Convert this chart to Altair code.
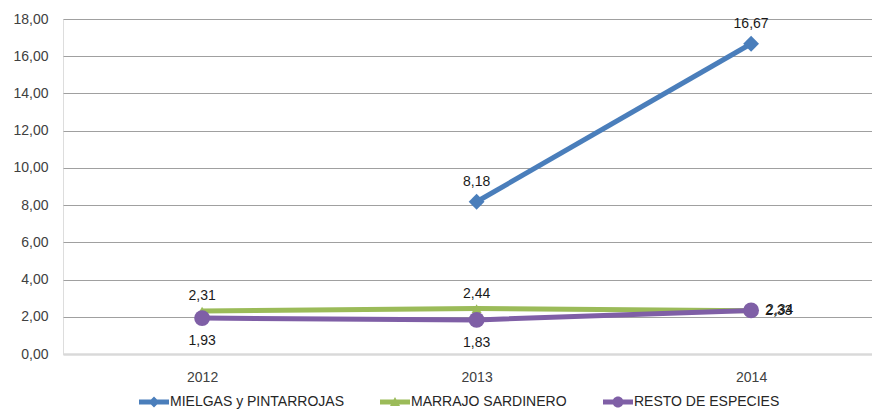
import altair as alt
import pandas as pd

years = ["2012", "2013", "2014"]
series_names = ["MIELGAS y PINTARROJAS", "MARRAJO SARDINERO", "RESTO DE ESPECIES"]
mielgas = [None, 8.18, 16.67]
marrajo = [2.31, 2.44, 2.33]
resto = [1.93, 1.83, 2.34]
colors = ["#4A7EBB", "#9BBB59", "#7F5FA6"]
marker_shapes = ["diamond", "triangle-up", "circle"]
marker_sizes = [250, 100, 250]
y_ticks = [0, 2, 4, 6, 8, 10, 12, 14, 16, 18]

rows = []
for name, vals in zip(series_names, [mielgas, marrajo, resto]):
    for yr, v in zip(years, vals):
        if v is not None:
            rows.append({"year": yr, "series": name, "value": v})
df = pd.DataFrame(rows)

FONT = "Liberation Sans"

x = alt.X("year:O", title=None,
          scale=alt.Scale(type="point", padding=0.4736, align=0.535),
          axis=alt.Axis(labelAngle=0, ticks=False, grid=False, domain=True,
                        domainColor="#d9d9d9", domainWidth=2,
                        labelPadding=16, labelFontSize=14, labelColor="#404040",
                        labelFont=FONT))
y = alt.Y("value:Q", title=None,
          scale=alt.Scale(domain=[0, 18], nice=False, zero=True),
          axis=alt.Axis(values=y_ticks, ticks=False, domain=False,
                        gridColor={"condition": {"test": "datum.value === 0", "value": "#d9d9d9"}, "value": "#a0a0a0"},
                        gridWidth={"condition": {"test": "datum.value === 0", "value": 2}, "value": 1},
                        labelPadding=15, labelFontSize=14, labelColor="#404040",
                        labelFont=FONT,
                        labelExpr="replace(format(datum.value, '.2f'), '.', ',')"))

color_scale = alt.Scale(domain=series_names, range=colors)

# legend glyphs: line segment + marker
p_line = "M-3,-0.5 L3,-0.5 L3,0.5 L-3,0.5 Z"
p_diamond = p_line + " M0,-1.1 L1.1,0 L0,1.1 L-1.1,0 Z"
p_tri = p_line + " M0,-1.0 L1.0,0.8 L-1.0,0.8 Z"
p_circle = p_line + " M-1.1,0 A1.1,1.1 0 1,1 1.1,0 A1.1,1.1 0 1,1 -1.1,0 Z"
legend_expr = ("(datum.value === '" + series_names[0] + "' ? '" + p_diamond + "' : "
               "(datum.value === '" + series_names[1] + "' ? '" + p_tri + "' : '" + p_circle + "'))")
mark_shape_expr = ("datum.series ? (datum.series === '" + series_names[0] + "' ? '" + marker_shapes[0] + "' : "
                   "(datum.series === '" + series_names[1] + "' ? '" + marker_shapes[1] + "' : '" + marker_shapes[2] + "')) : "
                   + legend_expr)
mark_size_expr = ("datum.series ? (datum.series === '" + series_names[0] + "' ? " + str(marker_sizes[0]) + " : "
                  "(datum.series === '" + series_names[1] + "' ? " + str(marker_sizes[1]) + " : " + str(marker_sizes[2]) + ")) : 100")

legend = alt.Legend(title=None, orient="none", direction="horizontal",
                    legendX=84, legendY=376,
                    symbolType=alt.ExprRef(expr=legend_expr),
                    symbolSize=100, symbolOpacity=1,
                    symbolStrokeWidth=0,
                    labelOffset=9, columnPadding=36,
                    labelFont=FONT, labelFontSize=14,
                    labelColor="#262626", labelLimit=400)

base = alt.Chart(df)

lines = base.mark_line(strokeWidth=5).encode(
    x=x, y=y,
    color=alt.Color("series:N", scale=color_scale, sort=series_names, legend=legend),
)

points = base.mark_point(filled=True, opacity=1,
                         shape=alt.ExprRef(expr=mark_shape_expr),
                         size=alt.ExprRef(expr=mark_size_expr)).encode(
    x=x, y=y,
    color=alt.Color("series:N", scale=color_scale, sort=series_names, legend=legend),
)

txt = dict(fontSize=14, font=FONT, color="#1a1a1a")
label_calc = "replace(format(datum.value, '.2f'), '.', ',')"

lab_blue = base.transform_filter(alt.datum.series == series_names[0]).transform_calculate(
    lab=label_calc).mark_text(dy=-20, **txt).encode(x=x, y=y, text="lab:N")
lab_green = base.transform_filter(
    (alt.datum.series == series_names[1]) & (alt.datum.year != "2014")).transform_calculate(
    lab=label_calc).mark_text(dy=-15, **txt).encode(x=x, y=y, text="lab:N")
lab_purple = base.transform_filter(
    (alt.datum.series == series_names[2]) & (alt.datum.year != "2014")).transform_calculate(
    lab=label_calc).mark_text(dy=23, **txt).encode(x=x, y=y, text="lab:N")
lab_right_g = base.transform_filter(
    (alt.datum.series == series_names[1]) & (alt.datum.year == "2014")).transform_calculate(
    lab=label_calc).mark_text(dx=14, align="left", **txt).encode(x=x, y=y, text="lab:N")
lab_right_p = base.transform_filter(
    (alt.datum.series == series_names[2]) & (alt.datum.year == "2014")).transform_calculate(
    lab=label_calc).mark_text(dx=15, align="left", **txt).encode(x=x, y=y, text="lab:N")

chart = alt.layer(lines, points, lab_blue, lab_green, lab_purple, lab_right_g, lab_right_p).properties(
    width=809, height=335,
    autosize=alt.AutoSizeParams(type="none"),
    padding={"left": 55, "top": 11, "right": 0, "bottom": 57},
).configure_view(stroke=None).configure(background="white")

chart.save("out.html", embed_options={"renderer": "svg", "actions": False})
